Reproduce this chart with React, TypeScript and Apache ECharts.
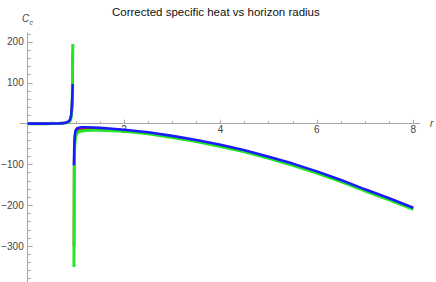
import React, { useEffect, useRef } from "react";
import * as echarts from "echarts";

const titleText = "Corrected specific heat vs horizon radius";

// left branch (r below the pole)
const leftR = [0, 0.2, 0.4, 0.55, 0.65, 0.72, 0.78, 0.82, 0.85, 0.88, 0.9, 0.915, 0.925, 0.935];
const blueLeft = [0, 0, 0.1, 0.3, 0.7, 1.3, 2.3, 3.4, 5.5, 10, 20, 40, 66, 97];
const redLeft = [-0.3, -0.3, -0.1, 0.2, 0.5, 1.1, 2, 3, 4.8, 8.5, 17, 35, 62, 170];
const greenLeft = [-0.6, -0.6, -0.4, 0, 0.4, 0.9, 1.6, 2.5, 4, 7, 14, 30, 56, 195];

// right branch (r above the pole)
const rightR = [0.96, 0.965, 0.975, 0.99, 1.02, 1.06, 1.12, 1.2, 1.35, 1.5, 1.75, 2, 2.5, 3, 3.5, 4, 4.5, 5, 5.5, 6, 6.5, 7, 7.5, 8];
const blueRight = [-102, -60, -32, -18, -12, -10, -9, -9, -9.5, -10.5, -12.5, -15, -21, -30, -40, -52, -65, -81, -98, -117, -138, -161, -183, -206];
const redRight = [-300, -85, -45, -26, -18, -15, -13.5, -13, -13, -13.5, -15, -17, -23, -32, -42, -54, -67, -83, -100, -119, -140, -163, -185, -208];
const greenRight = [-351, -110, -58, -33, -24, -20, -18, -17, -16.5, -16.5, -17.5, -19, -25, -34, -44, -56, -69, -85, -102, -121, -142, -165, -187, -210];

const xMajorTicks = [2, 4, 6, 8];
const xMinorTicks = [0.5, 1, 1.5, 2.5, 3, 3.5, 4.5, 5, 5.5, 6.5, 7, 7.5];
const yMajorTicks = [-300, -200, -100, 100, 200];
const yMinorTicks = [
  -380, -360, -340, -320, -280, -260, -240, -220, -180, -160, -140, -120,
  -80, -60, -40, -20, 20, 40, 60, 80, 120, 140, 160, 180, 220,
];

const X_MIN = -0.16;
const X_MAX = 8.14;
const Y_MIN = -388;
const Y_MAX = 222;

const GRID_LEFT = 20;
const GRID_RIGHT = 16;
const GRID_TOP = 33;
const GRID_BOTTOM = 0;
const W = 436;
const H = 282;

const AXIS = "#a8a8a8";
const LABEL = "#444";
const FONT = "Liberation Sans, Arial, sans-serif";
const RED = "#ff1a1a";
const GREEN = "#22e622";
const BLUE = "#1a1aff";

function pairs(r: number[], v: number[]) {
  return r.map((x, i) => [x, v[i]]);
}

function line(name: string, data: number[][], color: string, width: number, z: number) {
  return {
    type: "line", name, showSymbol: false, clip: true, z,
    xAxisIndex: 0, yAxisIndex: 0,
    data,
    lineStyle: { color, width }, itemStyle: { color },
  };
}

export default function App() {
  const ref = useRef<HTMLDivElement>(null);
  useEffect(() => {
    if (!ref.current) return;
    const chart = echarts.init(ref.current, null, { renderer: "svg" });
    const fmt = (v: number) => String(v).replace("-", "\u2212");
    const plotW = W - GRID_LEFT - GRID_RIGHT;
    const plotH = H - GRID_TOP - GRID_BOTTOM;
    const xZeroPx = ((0 - X_MIN) / (X_MAX - X_MIN)) * plotW;
    const yZeroPx = ((0 - Y_MIN) / (Y_MAX - Y_MIN)) * plotH;
    const option: any = {
      animation: false,
      textStyle: { fontFamily: FONT },
      title: {
        text: titleText,
        left: 107,
        top: 1,
        textStyle: { fontSize: 11.5, fontWeight: "normal", color: "#111", fontFamily: FONT },
      },
      graphic: [
        { type: "text", left: 22, top: 13, style: { text: "C", font: "italic 10px " + FONT, fill: LABEL } },
        { type: "text", left: 29.5, top: 18.5, style: { text: "c", font: "italic 7px " + FONT, fill: LABEL } },
      ],
      grid: {
        left: GRID_LEFT, right: GRID_RIGHT, top: GRID_TOP, bottom: GRID_BOTTOM,
        containLabel: false, outerBoundsMode: "none",
      },
      xAxis: [
        {
          type: "value", min: X_MIN, max: X_MAX, position: "bottom", offset: -yZeroPx,
          name: "r", nameLocation: "end", nameGap: 10,
          nameTextStyle: { fontStyle: "italic", color: LABEL, fontSize: 10, padding: [0, 0, 5, 0], fontFamily: FONT },
          axisLine: { show: true, onZero: false, lineStyle: { color: AXIS, width: 1 } },
          axisTick: { show: true, inside: true, length: 4, customValues: xMajorTicks, lineStyle: { color: AXIS } },
          axisLabel: { customValues: xMajorTicks, margin: 1, color: LABEL, fontSize: 10, fontFamily: FONT },
          splitLine: { show: false },
        },
        {
          type: "value", min: X_MIN, max: X_MAX, position: "bottom", offset: -yZeroPx,
          axisLine: { show: false, onZero: false },
          axisTick: { show: true, inside: true, length: 2.5, customValues: xMinorTicks, lineStyle: { color: AXIS } },
          axisLabel: { show: false },
          splitLine: { show: false },
        },
      ],
      yAxis: [
        {
          type: "value", min: Y_MIN, max: Y_MAX, position: "left", offset: -xZeroPx,
          axisLine: { show: true, onZero: false, lineStyle: { color: AXIS, width: 1 } },
          axisTick: { show: true, inside: true, length: 5, customValues: yMajorTicks, lineStyle: { color: AXIS } },
          axisLabel: { customValues: yMajorTicks, margin: 4, color: LABEL, fontSize: 10, formatter: fmt, fontFamily: FONT },
          splitLine: { show: false },
        },
        {
          type: "value", min: Y_MIN, max: Y_MAX, position: "left", offset: -xZeroPx,
          axisLine: { show: false, onZero: false },
          axisTick: { show: true, inside: true, length: 3, customValues: yMinorTicks, lineStyle: { color: AXIS } },
          axisLabel: { show: false },
          splitLine: { show: false },
        },
      ],
      series: [
        line("red", pairs(leftR, redLeft), RED, 2.6, 2),
        line("red", pairs(rightR, redRight), RED, 2.6, 2),
        line("green", pairs(leftR, greenLeft), GREEN, 3, 3),
        line("green", pairs(rightR, greenRight), GREEN, 3, 3),
        line("blue", pairs(leftR, blueLeft), BLUE, 2.6, 4),
        line("blue", pairs(rightR, blueRight), BLUE, 2.6, 4),
      ],
    };
    chart.setOption(option);
    return () => chart.dispose();
  }, []);
  return (
    <div
      ref={ref}
      style={{ position: "fixed", left: 0, top: 0, width: W, height: H, background: "#fff" }}
    />
  );
}
